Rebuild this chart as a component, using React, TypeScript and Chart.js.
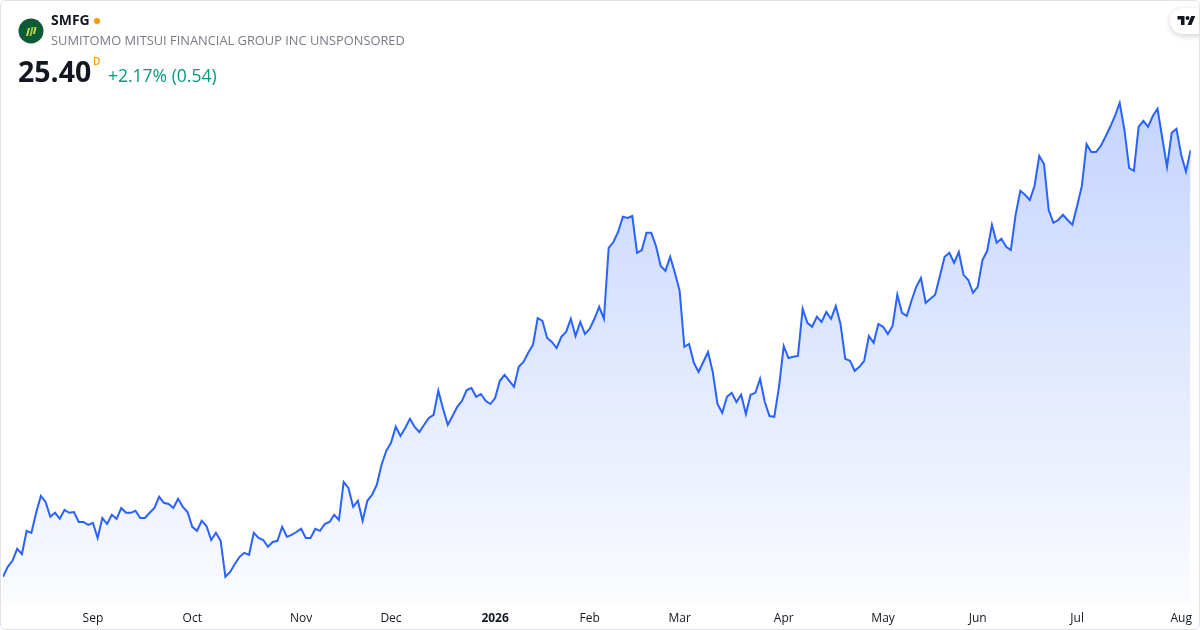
import React, { useEffect, useRef } from "react";
import { Chart, registerables } from "chart.js";

Chart.register(...registerables);

const SYMBOL = "SMFG";
const COMPANY = "SUMITOMO MITSUI FINANCIAL GROUP INC UNSPONSORED";
const LAST_PRICE = "25.40";
const INTERVAL = "D";
const CHANGE_TEXT = "+2.17% (0.54)";

// trading-day index of the first session of each month, and its label
const TICK_INDEX = [19, 40, 63, 82, 104, 124, 143, 165, 186, 206, 227, 249];
const TICK_LABELS = ["Sep", "Oct", "Nov", "Dec", "2026", "Feb", "Mar", "Apr", "May", "Jun", "Jul", "Aug"];

// daily closes, Aug 2025 – Aug 2026
const CLOSES_2025_AUG_NOV = [
  14.73, 14.98, 15.13, 15.43, 15.3, 15.88, 15.83, 16.33, 16.75, 16.6,
  16.23, 16.33, 16.18, 16.4, 16.33, 16.35, 16.1, 16.1, 16.03, 16.08,
  15.7, 16.2, 16.05, 16.28, 16.18, 16.45, 16.33, 16.33, 16.38, 16.2,
  16.2, 16.33, 16.45, 16.73, 16.58, 16.55, 16.45, 16.68, 16.48, 16.35,
  15.98, 15.88, 16.13, 16.0, 15.65, 15.83, 15.63, 14.73, 14.85, 15.05,
  15.23, 15.33, 15.28, 15.83, 15.7, 15.65, 15.48, 15.6, 15.63, 15.98,
  15.73, 15.78, 15.85, 15.93, 15.7, 15.7, 15.93, 15.88, 16.05, 16.1,
  16.28, 16.15, 17.1, 16.95, 16.48, 16.63, 16.13, 16.63, 16.78, 17.03,
];
const CLOSES_DEC_JAN = [
  17.53, 17.88, 18.08, 18.48, 18.25, 18.45, 18.68, 18.48, 18.35, 18.53,
  18.7, 18.78, 19.38, 18.93, 18.53, 18.75, 18.98, 19.13, 19.4, 19.45,
  19.23, 19.3, 19.13, 19.05, 19.2, 19.63, 19.78, 19.63, 19.48, 19.98,
  20.1, 20.33, 20.53, 21.2, 21.13, 20.7, 20.6, 20.45, 20.73, 20.85,
  21.18, 20.75, 21.1, 20.8, 20.93, 21.18, 21.48, 21.18,
];
const CLOSES_FEB_MAR = [
  22.95, 23.1, 23.35, 23.73, 23.7, 23.75, 22.83, 22.9, 23.33, 23.33,
  23.0, 22.5, 22.38, 22.73, 22.33, 21.88, 20.48, 20.55, 20.08, 19.85,
  20.1, 20.35, 19.85, 19.05, 18.83, 19.23, 19.33, 19.1, 19.28, 18.8,
  19.28, 19.33, 19.68, 19.1, 18.75, 18.73, 19.48, 20.5, 20.2, 20.23,
  20.25,
];
const CLOSES_APR_JUN = [
  21.43, 21.08, 20.98, 21.23, 21.1, 21.35, 21.18, 21.5, 21.05, 20.18,
  20.13, 19.88, 19.98, 20.13, 20.75, 20.58, 21.05, 20.98, 20.8, 21.0,
  21.78, 21.33, 21.25, 21.63, 21.98, 22.2, 21.58, 21.68, 21.78, 22.25,
  22.73, 22.83, 22.58, 22.85, 22.28, 22.15, 21.83, 21.98, 22.65, 22.88,
  23.53, 23.08, 23.18, 22.98, 22.9,
];
const CLOSES_JUN_AUG = [
  23.78, 24.38, 24.28, 24.15, 24.5, 25.25, 25.05, 23.9, 23.58, 23.65,
  23.78, 23.65, 23.53, 24.0, 24.5, 25.55, 25.35, 25.35, 25.5, 25.73,
  25.98, 26.25, 26.58, 25.9, 24.95, 24.88, 25.98, 26.13, 25.98, 26.25,
  26.43, 25.7, 24.98, 25.83, 25.93, 25.28, 24.86, 25.4,
];
const CLOSES = [
  ...CLOSES_2025_AUG_NOV,
  ...CLOSES_DEC_JAN,
  ...CLOSES_FEB_MAR,
  ...CLOSES_APR_JUN,
  ...CLOSES_JUN_AUG,
];

const Y_MIN = 14.075;
const Y_MAX = 26.9;

const FONT = "'Open Sans', 'Noto Sans', sans-serif";

export default function App() {
  const ref = useRef<HTMLCanvasElement>(null);

  useEffect(() => {
    document.body.style.margin = "0";
    const canvas = ref.current;
    if (!canvas) return;
    const chart = new Chart(canvas, {
      type: "line",
      data: {
        datasets: [
          {
            data: CLOSES.map((v, i) => ({ x: i, y: v })),
            borderColor: "#2962ff",
            borderWidth: 2,
            pointRadius: 0,
            pointHoverRadius: 0,
            tension: 0,
            fill: "start",
            backgroundColor: (ctx: any) => {
              const { chart: c } = ctx;
              const area = c.chartArea;
              if (!area) return "rgba(41,98,255,0.15)";
              const g = c.ctx.createLinearGradient(0, area.top, 0, area.bottom);
              g.addColorStop(0, "rgba(41,98,255,0.28)");
              g.addColorStop(1, "rgba(41,98,255,0.02)");
              return g;
            },
          },
        ],
      },
      options: {
        responsive: false,
        animation: false,
        events: [],
        layout: { padding: { top: 90, left: 3, right: 9, bottom: 0 } },
        plugins: {
          legend: { display: false },
          tooltip: { enabled: false },
        },
        scales: {
          x: {
            type: "linear",
            min: 0,
            max: CLOSES.length - 1,
            grid: { display: false, drawTicks: false },
            border: { display: false },
            afterBuildTicks: (s: any) => {
              s.ticks = TICK_INDEX.map((v) => ({ value: v }));
            },
            afterFit: (s: any) => {
              s.height = 27;
            },
            ticks: {
              autoSkip: false,
              maxRotation: 0,
              padding: 8,
              color: "#131722",
              font: (c: any) => {
                const k = c.tick ? TICK_INDEX.indexOf(c.tick.value) : -1;
                return {
                  family: FONT,
                  size: 12,
                  weight: k >= 0 && TICK_LABELS[k] === "2026" ? "bold" : "normal",
                };
              },
              callback: (v: any) => {
                const k = TICK_INDEX.indexOf(Number(v));
                return k >= 0 ? TICK_LABELS[k] : "";
              },
            },
          },
          y: { display: false, min: Y_MIN, max: Y_MAX },
        },
      },
    } as any);
    return () => chart.destroy();
  }, []);

  return (
    <div
      style={{
        position: "absolute",
        left: 0,
        top: 0,
        width: 1200,
        height: 630,
        overflow: "hidden",
        background: "#ffffff",
        fontFamily: FONT,
      }}
    >
      <canvas
        ref={ref}
        width={1200}
        height={630}
        style={{ position: "absolute", left: 0, top: 0, width: 1200, height: 630 }}
      />
      {/* company logo */}
      <svg
        width={26}
        height={26}
        viewBox="0 0 26 26"
        style={{ position: "absolute", left: 18, top: 18 }}
      >
        <circle cx={13} cy={13} r={12.5} fill="#0b5b37" />
        <polygon points="8,18 10,18 12,10 10,10" fill="#c8d94a" />
        <polygon points="11.5,18 13.5,18 15.5,9 13.5,9" fill="#9cc63a" />
        <polygon points="15,16 17,16 18.5,9 16.5,9" fill="#c8d94a" />
      </svg>
      <div
        style={{
          position: "absolute",
          left: 51,
          top: 11,
          fontSize: 14,
          lineHeight: "18px",
          fontWeight: 700,
          color: "#131722",
        }}
      >
        {SYMBOL}
      </div>
      <div
        style={{
          position: "absolute",
          left: 94,
          top: 18,
          width: 6,
          height: 6,
          borderRadius: 3,
          background: "#ff9800",
        }}
      />
      <div
        style={{
          position: "absolute",
          left: 51,
          top: 31,
          fontSize: 12.85,
          lineHeight: "18px",
          color: "#787b86",
          whiteSpace: "nowrap",
        }}
      >
        {COMPANY}
      </div>
      <div
        style={{
          position: "absolute",
          left: 18,
          top: 54,
          fontSize: 28.5,
          lineHeight: "34px",
          fontWeight: 700,
          color: "#131722",
        }}
      >
        {LAST_PRICE}
      </div>
      <div
        style={{
          position: "absolute",
          left: 93,
          top: 55,
          fontSize: 10,
          lineHeight: "12px",
          fontWeight: 600,
          color: "#ff9800",
        }}
      >
        {INTERVAL}
      </div>
      <div
        style={{
          position: "absolute",
          left: 108,
          top: 65,
          fontSize: 17.5,
          lineHeight: "20px",
          color: "#089981",
          whiteSpace: "nowrap",
        }}
      >
        {CHANGE_TEXT}
      </div>
      {/* TradingView badge */}
      <div
        style={{
          position: "absolute",
          left: 1170,
          top: 8,
          width: 44,
          height: 26,
          borderRadius: 13,
          background: "#ffffff",
          boxShadow: "0 2px 6px rgba(0,0,0,0.18)",
        }}
      >
        <svg
          width={19}
          height={14}
          viewBox="0 0 36 28"
          style={{ position: "absolute", left: 7, top: 6 }}
        >
          <path d="M14 22H7V11H0V4h14v18z" fill="#131722" />
          <path d="M28 22h-8l7.5-18h8L28 22z" fill="#131722" />
          <circle cx={20} cy={8} r={4} fill="#131722" />
        </svg>
      </div>
      {/* card border */}
      <div
        style={{
          position: "absolute",
          left: 0,
          top: 0,
          width: 1200,
          height: 630,
          boxSizing: "border-box",
          border: "1px solid #e0e3eb",
          borderRadius: 6,
          pointerEvents: "none",
        }}
      />
    </div>
  );
}
